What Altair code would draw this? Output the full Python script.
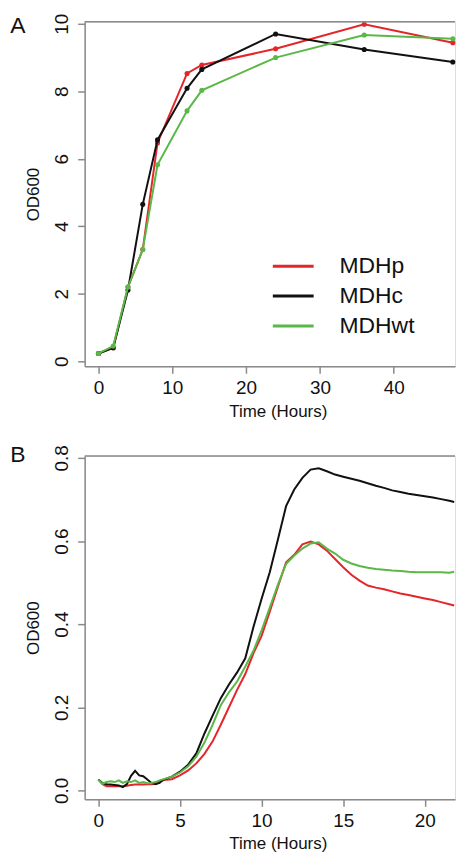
import altair as alt
import pandas as pd

# ---------------- data ----------------
series_names = ["MDHp", "MDHc", "MDHwt"]
series_colors = ["#e4262b", "#111111", "#5ab848"]
panel_labels = ["A", "B"]

# Panel A: OD600 over 48 h
a_time = [0, 2, 4, 6, 8, 12, 14, 24, 36, 48]
a_mdhp = [0.23, 0.40, 2.20, 3.31, 6.47, 8.53, 8.78, 9.26, 9.99, 9.44]
a_mdhc = [0.23, 0.40, 2.11, 4.65, 6.56, 8.09, 8.65, 9.70, 9.24, 8.87]
a_mdhwt = [0.23, 0.45, 2.20, 3.31, 5.82, 7.42, 8.03, 9.00, 9.67, 9.56]
a_xticks = [0, 10, 20, 30, 40]
a_yticks = [0, 2, 4, 6, 8, 10]

# Panel B: OD600 over 22 h (plate reader)
b_time = [0, 0.25, 0.5, 0.75, 1.0, 1.25, 1.5, 1.75, 2.0, 2.25, 2.5, 2.75, 3.0,
          3.25, 3.5, 3.75, 4.0, 4.5, 5.0, 5.5, 6.0, 6.5, 7.0, 7.5, 8.0, 8.5,
          9.0, 9.5, 10.0, 10.5, 11.0, 11.5, 12.0, 12.5, 13.0, 13.5, 14.0, 14.5,
          15.0, 15.5, 16.0, 16.5, 17.0, 17.5, 18.0, 18.5, 19.0, 19.5, 20.0,
          20.5, 21.0, 21.5, 21.8]
b_mdhp = [0.026, 0.015, 0.010, 0.010, 0.010, 0.010, 0.010, 0.011, 0.013, 0.014,
          0.014, 0.014, 0.015, 0.015, 0.016, 0.022, 0.025, 0.027, 0.036, 0.048,
          0.065, 0.088, 0.118, 0.158, 0.200, 0.242, 0.280, 0.330, 0.372, 0.430,
          0.490, 0.549, 0.567, 0.592, 0.599, 0.592, 0.577, 0.557, 0.537, 0.519,
          0.505, 0.493, 0.488, 0.484, 0.479, 0.474, 0.470, 0.466, 0.462, 0.458,
          0.453, 0.448, 0.445]
b_mdhc = [0.026, 0.018, 0.015, 0.014, 0.013, 0.012, 0.008, 0.015, 0.035, 0.047,
          0.036, 0.034, 0.026, 0.018, 0.015, 0.018, 0.026, 0.033, 0.045, 0.062,
          0.089, 0.137, 0.180, 0.222, 0.255, 0.284, 0.318, 0.393, 0.461, 0.525,
          0.604, 0.684, 0.724, 0.752, 0.772, 0.775, 0.768, 0.760, 0.755, 0.750,
          0.745, 0.739, 0.733, 0.728, 0.722, 0.718, 0.714, 0.711, 0.708, 0.705,
          0.701, 0.697, 0.694]
b_mdhwt = [0.026, 0.016, 0.020, 0.022, 0.020, 0.024, 0.018, 0.022, 0.020, 0.024,
           0.018, 0.020, 0.017, 0.018, 0.020, 0.024, 0.027, 0.033, 0.043, 0.058,
           0.081, 0.115, 0.158, 0.205, 0.236, 0.262, 0.298, 0.336, 0.385, 0.440,
           0.495, 0.545, 0.565, 0.582, 0.594, 0.597, 0.582, 0.570, 0.555, 0.546,
           0.540, 0.536, 0.533, 0.531, 0.529, 0.528, 0.526, 0.525, 0.525, 0.525,
           0.525, 0.524, 0.526]
b_xticks = [0, 5, 10, 15, 20]
b_yticks = [0.0, 0.2, 0.4, 0.6, 0.8]


def long_df(time, cols):
    rows = []
    for name, vals in zip(series_names, cols):
        for t, v in zip(time, vals):
            rows.append({"time": t, "od": v, "strain": name})
    return pd.DataFrame(rows)


dfA = long_df(a_time, [a_mdhp, a_mdhc, a_mdhwt])
dfB = long_df(b_time, [b_mdhp, b_mdhc, b_mdhwt])

# ---------------- style ----------------
W = 372
HA = 346
HB = 345
GRAY = "#8a8a8a"
FONT = "Liberation Sans"


def x_axis(values, tpad):
    return alt.Axis(values=values, title="Time (Hours)", grid=False,
                    domainColor=GRAY, domainWidth=1.5, tickColor=GRAY,
                    tickWidth=1.5, tickSize=7, labelFontSize=19,
                    labelFont=FONT, labelColor="#111111", labelPadding=5,
                    labelFlush=False, labelOverlap=False,
                    titleFont=FONT, titleFontSize=17, titleFontWeight="normal",
                    titleColor="#111111", titlePadding=tpad, titleX=194)


def y_axis(values, fmt):
    return alt.Axis(values=values, title="OD600", grid=False, format=fmt,
                    domainColor=GRAY, domainWidth=1.5, tickColor=GRAY,
                    tickWidth=1.5, tickSize=7, labelFontSize=19,
                    labelFont=FONT, labelColor="#111111", labelPadding=10,
                    labelAngle=270, labelAlign="center",
                    labelBaseline="alphabetic", labelFlush=False,
                    labelOverlap=False,
                    titleFont=FONT, titleFontSize=17, titleFontWeight="normal",
                    titleColor="#111111", titlePadding=10)


def panel(df, xdom, ydom, xt, yt, yfmt, label, height, legend, points,
          label_y, tpad):
    xenc = alt.X("time:Q", scale=alt.Scale(domain=xdom, nice=False, zero=False),
                 axis=x_axis(xt, tpad))
    yenc = alt.Y("od:Q", scale=alt.Scale(domain=ydom, nice=False, zero=False),
                 axis=y_axis(yt, yfmt))
    cenc = alt.Color("strain:N",
                     scale=alt.Scale(domain=series_names, range=series_colors),
                     legend=legend)
    layers = []
    for name in series_names:
        sub = df[df["strain"] == name]
        base = alt.Chart(sub).encode(x=xenc, y=yenc, color=cenc)
        layers.append(base.mark_line(strokeWidth=2))
        if points:
            layers.append(base.mark_circle(size=26, opacity=1))
    lab = pd.DataFrame({"label": [label]})
    layers.append(alt.Chart(lab).mark_text(
        fontSize=23, font=FONT, color="#111111", align="center",
        baseline="alphabetic").encode(text="label:N", x=alt.value(-67),
                                      y=alt.value(label_y)))
    layers.append(alt.Chart(lab).mark_rule(color=GRAY, strokeWidth=1.5).encode(
        x=alt.value(0), x2=alt.value(W), y=alt.value(0)))
    return alt.layer(*layers).properties(width=W, height=height)


legendA = alt.Legend(title=None, orient="none", legendX=198, legendY=234,
                     direction="vertical", symbolType="M-2.5,0H2.5",
                     symbolSize=269, symbolStrokeWidth=3, labelFontSize=23,
                     labelFont=FONT, labelColor="#111111", labelOffset=35,
                     rowPadding=6, padding=0, labelLimit=300)

chartA = panel(dfA, [-1.87, 48.3], [-0.15, 10.06], a_xticks, a_yticks, "d",
               panel_labels[0], HA, legendA, True, 11, 6)
chartB = panel(dfB, [-0.84, 21.85], [-0.0216, 0.805], b_xticks, b_yticks, ".1f",
               panel_labels[1], HB, None, False, 6, 5)

chart = alt.vconcat(chartA, chartB, spacing=23).properties(
    padding={"left": 1, "top": 2, "right": 0, "bottom": 0}
).configure_view(stroke=None).configure(background="white")

chart.save("out.html", embed_options={"renderer": "svg", "actions": False})
